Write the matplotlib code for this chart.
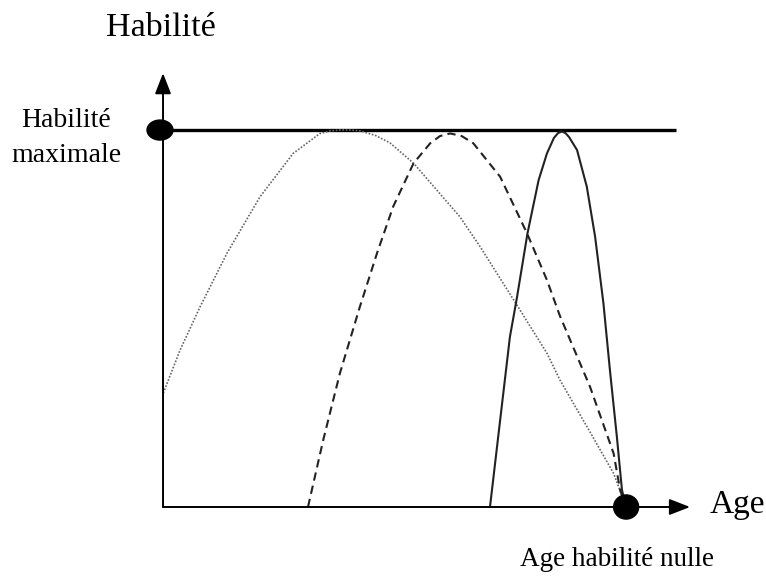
import matplotlib
matplotlib.use("Agg")
import matplotlib.pyplot as plt
from matplotlib.patches import Ellipse


# age (0 = origin, 100 = "age habilite nulle"), habilite (0..100 = maximum)
dotted_age = [0.06, 3.67, 8.0, 13.8, 20.95, 28.1, 33.9, 36.2, 38.2, 40.4, 42.5, 45.8,
              49.0, 54.1, 64.1, 68.5, 76.4, 82.9, 85.7, 92.2, 97.3, 100]
dotted_hab = [30.2, 41.6, 53.1, 67.3, 82.3, 93.8, 99.1, 99.8, 100, 100, 99.8, 98.6,
              96.6, 91.2, 77.0, 69.0, 53.6, 40.8, 33.7, 19.9, 8.9, 0]

dashed_age = [31.3, 34.6, 38.2, 42.5, 46.2, 49.7, 54.1, 57.7, 59.8, 62.0, 64.5, 67.0,
              72.8, 78.6, 82.9, 85.7, 92.2, 97.3, 98.7, 100]
dashed_hab = [0, 17.8, 35.5, 53.1, 67.3, 79.7, 91.2, 96.5, 98.4, 99.1, 98.4, 96.5,
              87.6, 72.6, 60.2, 50.7, 31.9, 14.2, 4.5, 0]

solid_age = [70.6, 72.8, 74.9, 76.4, 78.7, 81.1, 82.9, 84.4, 85.3, 86.1, 86.9, 87.7,
             89.4, 91.5, 93.3, 95.1, 96.5, 98.0, 99.1, 100]
solid_hab = [0, 23.1, 45.1, 55.4, 72.6, 86.7, 93.8, 97.9, 99.2, 99.6, 99.2, 98.1,
             94.7, 85.0, 71.7, 54.0, 36.3, 18.6, 4.5, 0]

HAB_MAX = 100
AGE_NULL = 100

plt.rcParams["font.family"] = ["Liberation Serif", "DejaVu Serif"]

fig = plt.figure(figsize=(7.66, 5.77), dpi=100)
ax = fig.add_axes([0, 0, 1, 1])
ax.set_xlim(-35.2, 130.2)
ax.set_ylim(-18.57, 134.5)
ax.axis("off")

# axes with arrows
arrow = dict(arrowstyle="-|>,head_length=0.9,head_width=0.35", color="black",
             lw=1.4, mutation_scale=14, shrinkA=0, shrinkB=0)
ax.annotate("", xy=(0, 115.1), xytext=(0, 0), arrowprops=arrow)
ax.annotate("", xy=(113.8, 0), xytext=(0, 0), arrowprops=arrow)

# maximum ability line
ax.plot([0, 110.8], [HAB_MAX, HAB_MAX], color="black", lw=2.4, solid_capstyle="butt")

ax.plot(dotted_age, dotted_hab, color="#666666", lw=1.2, linestyle=(0, (1, 1)))
ax.plot(dashed_age, dashed_hab, color="#222222", lw=1.5, linestyle=(0, (4, 2.5)))
ax.plot(solid_age, solid_hab, color="#222222", lw=1.5)

ax.add_patch(Ellipse((-0.65, HAB_MAX), 5.6, 5.3, color="black", zorder=5))
ax.add_patch(Ellipse((AGE_NULL, 0), 5.4, 6.4, color="black", zorder=5))

ax.text(-0.54, 124.9, "Habilité", fontsize=24.5, ha="center", va="baseline")
ax.text(-20.95, 100.8, "Habilité", fontsize=20, ha="center", va="baseline")
ax.text(-20.95, 91.5, "maximale", fontsize=20, ha="center", va="baseline")
ax.text(118.1, -1.6, "Age", fontsize=24, ha="left", va="baseline")
ax.text(98.05, -15.6, "Age habilité nulle", fontsize=19.5, ha="center", va="baseline")

fig.savefig("out.png", dpi=100)
